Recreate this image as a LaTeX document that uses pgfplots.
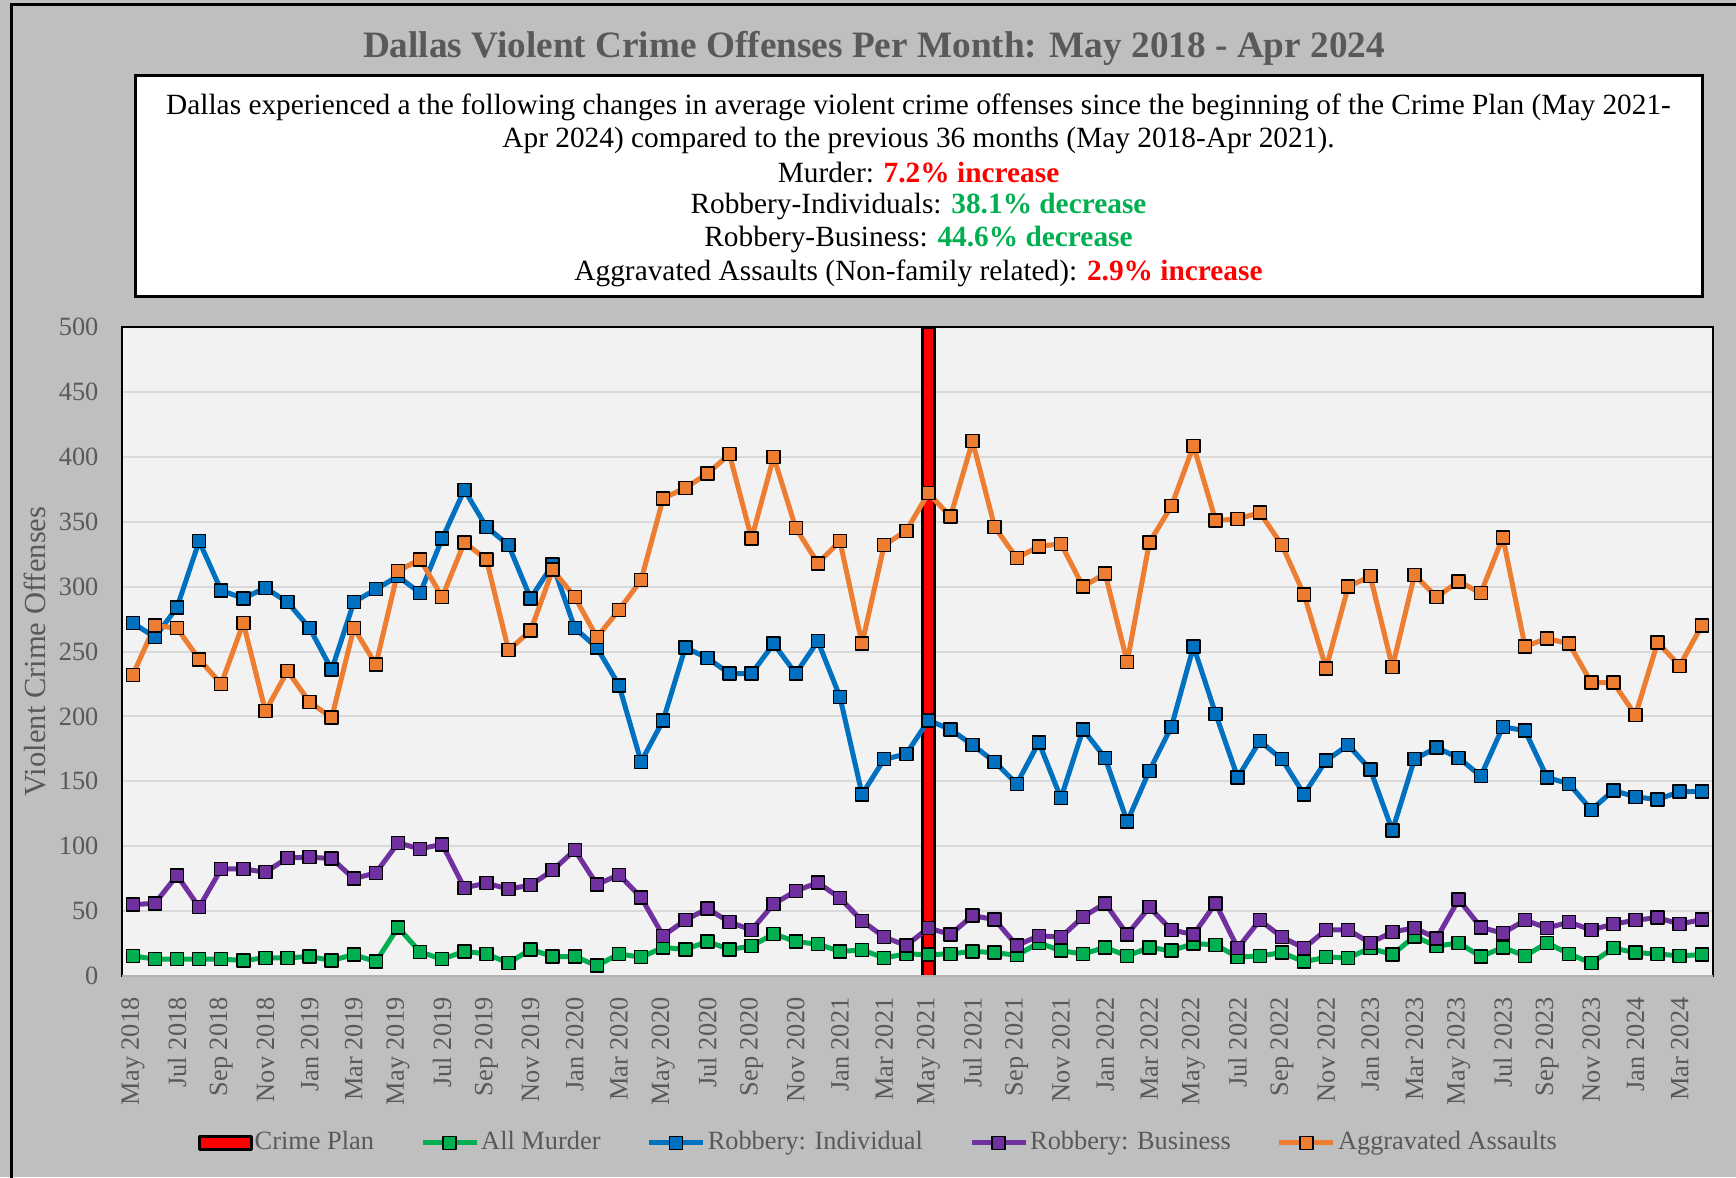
\documentclass[border=0pt]{standalone}
\usepackage{fontspec}
\setmainfont{Liberation Serif}
\usepackage{pgfplots}
\pgfplotsset{compat=1.18}
\usepackage{pgfplotstable}
\definecolor{bgray}{HTML}{BFBFBF}
\definecolor{txtgray}{HTML}{595959}
\definecolor{plotbg}{HTML}{F2F2F2}
\definecolor{gridc}{HTML}{D9D9D9}
\definecolor{cgreen}{HTML}{00B050}
\definecolor{cblue}{HTML}{0070C0}
\definecolor{cpurple}{HTML}{7030A0}
\definecolor{corange}{HTML}{ED7D31}
\definecolor{cred}{HTML}{FF0000}

\pgfplotstableread{
i g b p o
0 15.5 272 55 232
1 13 261 56 270
2 13 284 77.5 268
3 13 335 53 244
4 13 297 82.5 225
5 12 291 82.5 272
6 14 299 80 204
7 14 288 91 235
8 15 268 91.5 211
9 12 236 90.5 199
10 16.5 288 75 268
11 11 298 79.5 240
12 37.5 308 102.5 312
13 18.5 295 98 321
14 13 337 101.5 292
15 19 374.5 68 334
16 17 346 71.5 321
17 10 332 67 251
18 20.5 291 70 266
19 15 317 81.5 313
20 15 268 97 292
21 8 253 70.5 261
22 17 224 78 282
23 14.5 165 60.5 305
24 22 197 31 368
25 20.5 253 43 376
26 26.5 245 52 387
27 20.5 233 41.5 402
28 23 233 35.5 337
29 32.5 256 55.5 400
30 26.5 233 65.5 345
31 24.5 258 72 318
32 19 215 60 335
33 20 140 42.5 256
34 14 167 30 332
35 17 171 23.5 343
36 16.5 197 37 372
37 17 190 32 354
38 19 178 46.5 412
39 18 165 43.5 346
40 16 148 23.5 322
41 25.5 180 31 331
42 19.5 137 30 333
43 17 190 45.5 300
44 22 168 56 310
45 15.5 119 32 242
46 22 158 53 334
47 19.5 192 35.5 362
48 25 254 32 408.5
49 24 202 56 351
50 14.5 153 21.5 352
51 15.5 181 43 357
52 18 167 30 332
53 11 140 21.5 294
54 14.5 166 35.5 237
55 14 178 35.5 300
56 21.5 159 25.5 308
57 16.5 112 34 238
58 30.5 167 37 309
59 23 176 29 292
60 25.5 168 59 304
61 15 154 37.5 295
62 22 192 33 338
63 15.5 189 43 254
64 25.5 153 37 260
65 17 148 41.5 256
66 10 128 35.5 226
67 21.5 143 40 226
68 18 138 43 201
69 17 136 45 257
70 15.5 142 40 239
71 16.5 142 43.5 270
}\crimedata

\begin{document}
\begin{tikzpicture}
\path[use as bounding box, fill=bgray] (0,0) rectangle (173.6mm,117.7mm);
\draw[line width=0.3mm] (1.1mm,-1mm) -- (1.1mm,117.2mm) -- (175mm,117.2mm);
\node[text=txtgray, font=\fontsize{10.6}{12}\selectfont\bfseries] at (87.4mm,112.9mm) {Dallas Violent Crime Offenses Per Month: May 2018 - Apr 2024};
\draw[fill=white, line width=0.3mm] (13.5mm,88.0mm) rectangle (170.2mm,110.1mm);
\begin{scope}[every node/.style={font=\fontsize{8.35}{9.4}\selectfont, inner sep=0pt}]
\node at (91.85mm,107.0mm) {Dallas experienced a the following changes in average violent crime offenses since the beginning of the Crime Plan (May 2021-};
\node at (91.85mm,103.7mm) {Apr 2024) compared to the previous 36 months (May 2018-Apr 2021).};
\node at (91.85mm,100.4mm) {Murder: \textcolor{cred}{\bfseries 7.2\% increase}};
\node at (91.85mm,97.1mm) {Robbery-Individuals: \textcolor{cgreen}{\bfseries 38.1\% decrease}};
\node at (91.85mm,93.8mm) {Robbery-Business: \textcolor{cgreen}{\bfseries 44.6\% decrease}};
\node at (91.85mm,90.4mm) {Aggravated Assaults (Non-family related): \textcolor{cred}{\bfseries 2.9\% increase}};
\end{scope}
\begin{axis}[
  at={(12.18mm,20.1mm)}, anchor=south west,
  scale only axis, width=159.1mm, height=64.9mm,
  xmin=-0.5, xmax=71.5, ymin=0, ymax=500,
  ytick={0,50,...,500},
  xtick={0,2,...,70},
  xticklabels={May 2018,Jul 2018,Sep 2018,Nov 2018,Jan 2019,Mar 2019,May 2019,Jul 2019,Sep 2019,Nov 2019,Jan 2020,Mar 2020,May 2020,Jul 2020,Sep 2020,Nov 2020,Jan 2021,Mar 2021,May 2021,Jul 2021,Sep 2021,Nov 2021,Jan 2022,Mar 2022,May 2022,Jul 2022,Sep 2022,Nov 2022,Jan 2023,Mar 2023,May 2023,Jul 2023,Sep 2023,Nov 2023,Jan 2024,Mar 2024},
  major tick length=0pt,
  ymajorgrids, grid style={gridc, line width=0.2mm},
  axis background/.style={fill=plotbg},
  axis line style={line width=0.2mm, black},
  tick label style={text=txtgray, font=\fontsize{7.5}{9}\selectfont},
  /pgf/number format/assume math mode=true,
  xticklabel style={rotate=90, anchor=east},
  xticklabel shift=0.9mm,
  yticklabel shift=1.1mm,
  ylabel={Violent Crime Offenses},
  every axis y label/.style={at={(axis description cs:-0.0546,0.5)}, rotate=90, anchor=center, text=txtgray, font=\fontsize{8.7}{10}\selectfont},
  legend columns=5,
  legend image code/.code={\draw[mark repeat=2,mark phase=2,#1] plot coordinates {(0cm,0cm) (0.27cm,0cm) (0.54cm,0cm)};},
  legend style={at={(axis description cs:0.4755,-0.2573)}, anchor=center, draw=none, fill=none, text=txtgray, font=\fontsize{7.5}{9}\selectfont, nodes={inner xsep=0.6pt}, /tikz/every even column/.append style={column sep=4.4mm}},
  every axis plot/.append style={line width=0.5mm, line join=round},
  after end axis/.code={\draw[color=gray!60, line width=0.25mm] (rel axis cs:0,0) -- (rel axis cs:1,0);},
]
\addplot[ybar, bar width=1.2mm, bar shift=0pt, fill=red, draw=black, line width=0.3mm,
  legend image code/.code={\draw[fill=red, draw=black, line width=0.3mm] (0mm,-0.65mm) rectangle (5.2mm,0.65mm);}]
  coordinates {(36,500)};
\addlegendentry{Crime Plan}
\addplot[cgreen, mark=square*, mark size=0.65mm, mark options={draw=black, fill=cgreen, line width=0.15mm, solid}] table[x=i, y=g] {\crimedata};
\addlegendentry{All Murder}
\addplot[cblue, mark=square*, mark size=0.65mm, mark options={draw=black, fill=cblue, line width=0.15mm, solid}] table[x=i, y=b] {\crimedata};
\addlegendentry{Robbery: Individual}
\addplot[cpurple, mark=square*, mark size=0.65mm, mark options={draw=black, fill=cpurple, line width=0.15mm, solid}] table[x=i, y=p] {\crimedata};
\addlegendentry{Robbery: Business}
\addplot[corange, mark=square*, mark size=0.65mm, mark options={draw=black, fill=corange, line width=0.15mm, solid}] table[x=i, y=o] {\crimedata};
\addlegendentry{Aggravated Assaults}
\end{axis}
\end{tikzpicture}
\end{document}
